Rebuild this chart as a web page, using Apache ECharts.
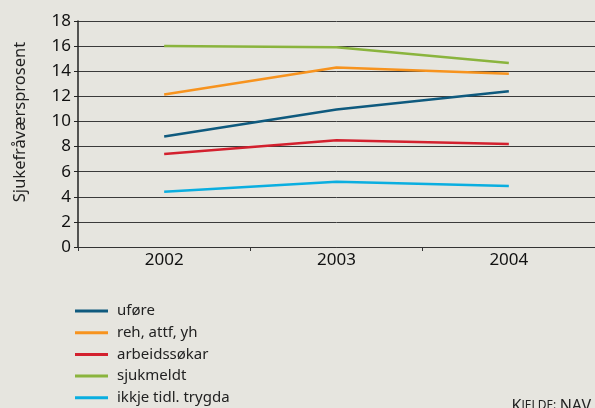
<!DOCTYPE html>
<html>
<head>
<meta charset="utf-8">
<script src="https://cdn.jsdelivr.net/npm/echarts@6/dist/echarts.min.js"></script>
<style>
  html, body { margin: 0; padding: 0; background: #e6e5df; }
  #chart { width: 595px; height: 408px; }
</style>
</head>
<body>
<div id="chart"></div>
<script>
// år
const years = ['2002', '2003', '2004'];
// sjukefråværsprosent per gruppe
const ufore = [8.8, 10.95, 12.4];
const reh = [12.15, 14.3, 13.8];
const arbeidssokar = [7.4, 8.5, 8.2];
const sjukmeldt = [16.0, 15.9, 14.65];
const ikkjeTrygda = [4.4, 5.2, 4.85];

const fontFam = '"Noto Sans", sans-serif';

function lineSeries(name, data, color) {
  return {
    name: name,
    type: 'line',
    data: data,
    showSymbol: false,
    symbol: 'none',
    lineStyle: { color: color, width: 2.5 },
    itemStyle: { color: color },
  };
}

const chart = echarts.init(document.getElementById('chart'));
chart.setOption({
  backgroundColor: '#e6e5df',
  animation: false,
  textStyle: { fontFamily: fontFam },
  grid: { left: 78, top: 21, right: -2, bottom: 161 },
  xAxis: {
    type: 'category',
    data: years,
    boundaryGap: true,
    axisLine: { show: true, lineStyle: { color: '#333', width: 1 } },
    axisTick: { show: true, length: 4, lineStyle: { color: '#333' } },
    axisLabel: { color: '#111', fontSize: 17, margin: 5 },
  },
  yAxis: {
    type: 'value',
    min: 0,
    max: 18,
    interval: 2,
    axisLine: { show: true, lineStyle: { color: '#222', width: 1.5 } },
    axisTick: { show: true, length: 4, lineStyle: { color: '#222' } },
    axisLabel: { color: '#111', fontSize: 17, margin: 7 },
    splitLine: { show: true, lineStyle: { color: '#3a3a3a', width: 1 } },
  },
  legend: {
    orient: 'vertical',
    left: 75,
    top: 303,
    height: 120,
    padding: 0,
    itemWidth: 33,
    itemHeight: 3,
    itemGap: 5.7,
    icon: 'rect',
    textStyle: { color: '#222', fontSize: 15, lineHeight: 16, padding: [0, 0, 0, 4] },
    data: ['uføre', 'reh, attf, yh', 'arbeidssøkar', 'sjukmeldt', 'ikkje tidl. trygda'],
  },
  graphic: [{
    // y-akse tittel
    type: 'text',
    x: 20,
    y: 122,
    rotation: Math.PI / 2,
    style: {
      text: 'Sjukefråværsprosent',
      fontSize: 16.5,
      fontFamily: fontFam,
      fill: '#222',
      align: 'center',
      verticalAlign: 'middle',
    },
  }, {
    type: 'text',
    right: 4,
    bottom: -6,
    style: {
      text: '{a|K}{b|JELDE:} {a|NAV}',
      rich: {
        a: { fontSize: 16, fill: '#222', fontFamily: fontFam },
        b: { fontSize: 12, fill: '#222', fontFamily: fontFam },
      },
    },
  }],
  series: [
    lineSeries('uføre', ufore, '#0f5a7e'),
    lineSeries('reh, attf, yh', reh, '#f7931e'),
    lineSeries('arbeidssøkar', arbeidssokar, '#d3202e'),
    lineSeries('sjukmeldt', sjukmeldt, '#8ab43d'),
    lineSeries('ikkje tidl. trygda', ikkjeTrygda, '#0aaee0'),
  ],
});
</script>
</body>
</html>
